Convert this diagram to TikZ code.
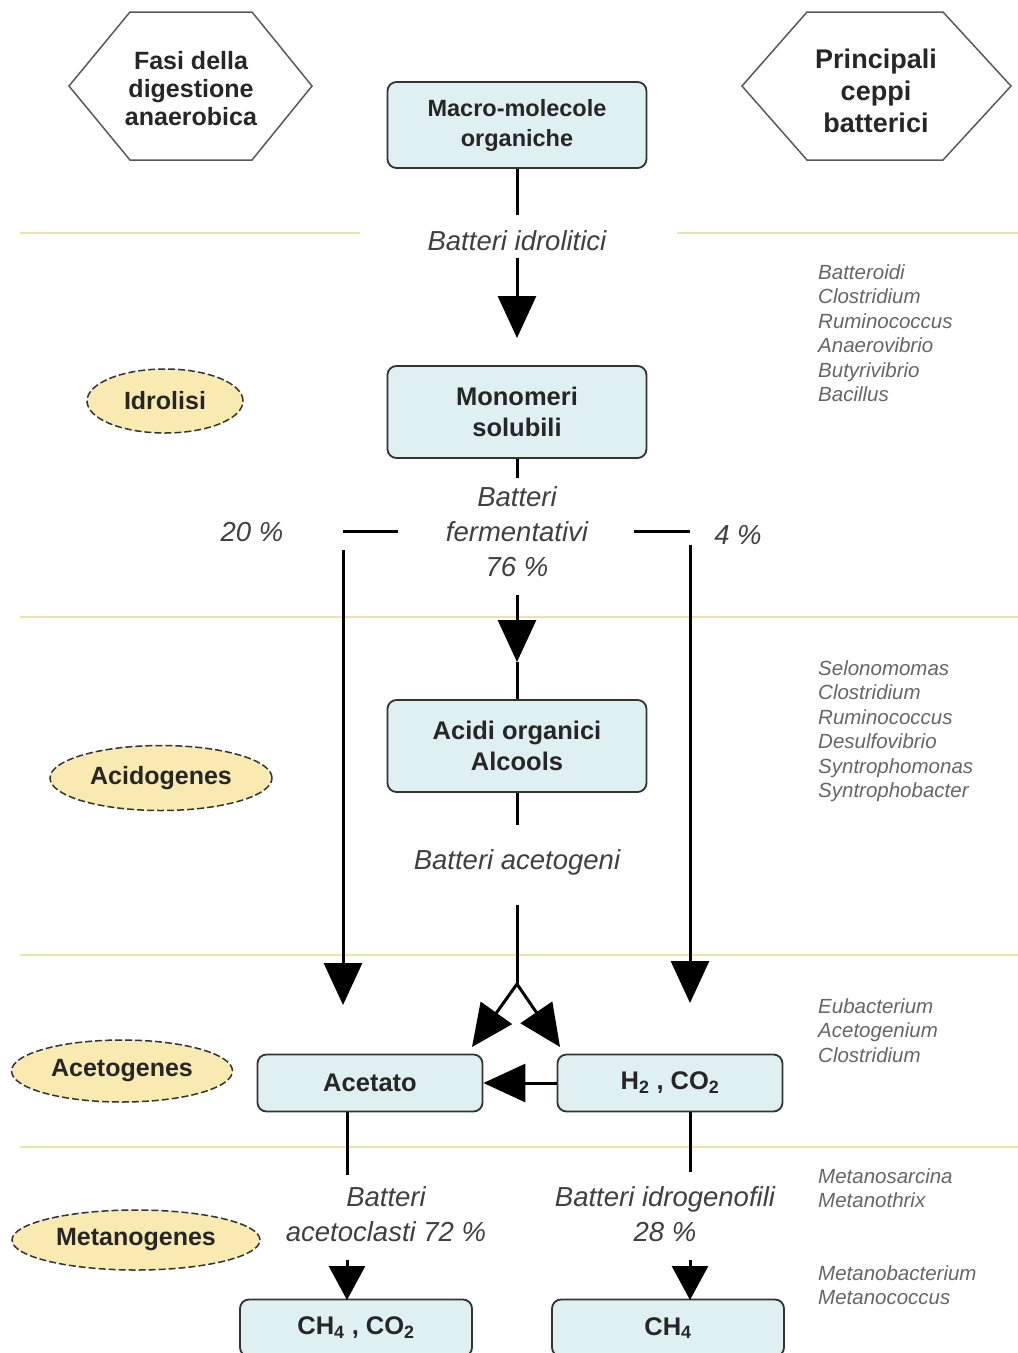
\documentclass[tikz,border=0pt]{standalone}
\usepackage{fontspec}
\setmainfont{Liberation Sans}
\usetikzlibrary{arrows.meta,shapes.geometric}
\definecolor{boxfill}{HTML}{DFF0F3}
\definecolor{ellfill}{HTML}{F8EAB0}
\definecolor{sepcol}{HTML}{EFE2A6}
\definecolor{edgecol}{HTML}{333333}
\begin{document}
\begin{tikzpicture}[x=1pt,y=-1pt,
  box/.style={draw=edgecol, line width=1.8pt, fill=boxfill, rounded corners=9pt, align=center, text=black!85, font=\bfseries\fontsize{25.5}{31}\selectfont},
  phase/.style={ellipse, draw=edgecol, line width=1.5pt, dash pattern=on 7pt off 3pt, fill=ellfill, text=black!85, font=\bfseries\fontsize{25}{30}\selectfont, inner sep=0pt},
  lab/.style={align=center, text=black!75, font=\itshape\fontsize{27.5}{35}\selectfont, inner sep=0pt},
  species/.style={align=left, anchor=north west, text=black!60, font=\itshape\fontsize{20.5}{24.5}\selectfont, inner sep=0pt},
  hexa/.style={draw=black!65, line width=1.5pt},
  hextext/.style={align=center, text=black!85, font=\bfseries\fontsize{25}{28}\selectfont},
  conn/.style={line width=3pt, black},
  tip/.style={-{Triangle[width=38pt,length=42pt]}},
  smalltip/.style={-{Triangle[width=36pt,length=34pt]}},
  sep/.style={sepcol, line width=2.2pt}
]
\clip (0,0) rectangle (1018,1353);
\fill[white] (0,0) rectangle (1018,1353);

% separators
\draw[sep] (20,233) -- (360,233);
\draw[sep] (677,233) -- (1018,233);
\draw[sep] (20,617) -- (1018,617);
\draw[sep] (20,955) -- (1018,955);
\draw[sep] (20,1147) -- (1018,1147);

% hexagons
\draw[hexa] (69,86) -- (130,12) -- (252,12) -- (312,86) -- (252,160) -- (130,160) -- cycle;
\node[hextext] (hexL) at (191,89) {Fasi della\\digestione\\anaerobica};
\draw[hexa] (742,86) -- (807,12) -- (943,12) -- (1011,86) -- (943,160) -- (807,160) -- cycle;
\node[hextext, font=\bfseries\fontsize{27}{32}\selectfont] (hexR) at (876,91) {Principali\\ceppi\\batterici};

% boxes
\node[box, minimum width=259pt, minimum height=86pt, font=\bfseries\fontsize{23.5}{30}\selectfont] (macro) at (517,125) {Macro-molecole\\organiche};
\node[box, minimum width=259pt, minimum height=92pt] (mono) at (517,412) {Monomeri\\solubili};
\node[box, minimum width=259pt, minimum height=92pt] (acidi) at (517,746) {Acidi organici\\Alcools};
\node[box, minimum width=225pt, minimum height=57pt] (acet) at (370,1083) {Acetato};
\node[box, minimum width=225pt, minimum height=57pt] (hco) at (670,1083) {H\textsubscript{2} , CO\textsubscript{2}};
\node[box, minimum width=232pt, minimum height=57pt] (ch4co2) at (356,1328) {CH\textsubscript{4} , CO\textsubscript{2}};
\node[box, minimum width=232pt, minimum height=57pt] (ch4) at (668,1328) {CH\textsubscript{4}};

% phases
\node[phase, minimum width=156pt, minimum height=64pt] (idro) at (165,401) {Idrolisi};
\node[phase, minimum width=222pt, minimum height=65pt] (acido) at (161,778) {Acidogenes};
\node[phase, minimum width=221pt, minimum height=62pt] (aceto) at (122,1071) {Acetogenes};
\node[phase, minimum width=248pt, minimum height=60pt] (metano) at (136,1240) {Metanogenes};

% labels
\node[lab] (l1) at (517,241) {Batteri idrolitici};
\node[lab] (l2) at (517,532) {Batteri\\fermentativi\\76 \%};
\node[lab] (p20) at (252,532) {20 \%};
\node[lab] (p4) at (738,535) {4 \%};
\node[lab] (l3) at (517,862) {Batteri acetogeni};
\node[lab] (l4) at (386,1214) {Batteri\\acetoclasti 72 \%};
\node[lab] (l5) at (665,1214) {Batteri idrogenofili\\28 \%};

% species lists
\node[species] (sp1) at (818,264) {Batteroidi\\Clostridium\\Ruminococcus\\Anaerovibrio\\Butyrivibrio\\Bacillus};
\node[species] (sp2) at (818,660) {Selonomomas\\Clostridium\\Ruminococcus\\Desulfovibrio\\Syntrophomonas\\Syntrophobacter};
\node[species] (sp3) at (818,998) {Eubacterium\\Acetogenium\\Clostridium};
\node[species] (sp4) at (818,1168) {Metanosarcina\\Metanothrix};
\node[species] (sp5) at (818,1265) {Metanobacterium\\Metanococcus};

% coordinates
\coordinate (a1) at (517,215);
\coordinate (a2) at (517,258);
\coordinate (a3) at (517,338);
\coordinate (b1) at (517,478);
\coordinate (hl1) at (343,531);
\coordinate (hl2) at (398,531);
\coordinate (hr1) at (634,531);
\coordinate (hr2) at (690,531);
\coordinate (vl1) at (343,550);
\coordinate (vl2) at (343,1005);
\coordinate (vr1) at (690,545);
\coordinate (vr2) at (690,1003);
\coordinate (m1) at (517,595);
\coordinate (m2) at (517,662);
\coordinate (c1) at (517,825);
\coordinate (c2) at (517,905);
\coordinate (fork) at (517,984);
\coordinate (fl) at (472,1047);
\coordinate (fr) at (560,1047);
\coordinate (d1) at (347,1175);
\coordinate (d2) at (347,1260);
\coordinate (d3) at (347,1300);
\coordinate (e1) at (690,1172);
\coordinate (e2) at (690,1260);
\coordinate (e3) at (690,1300);

% connectors
\draw[conn] (macro.south) -- (a1);
\draw[conn,tip] (a2) -- (a3);
\draw[conn] (mono.south) -- (b1);
\draw[conn] (hl1) -- (hl2);
\draw[conn] (hr1) -- (hr2);
\draw[conn,tip] (vl1) -- (vl2);
\draw[conn,tip] (vr1) -- (vr2);
\draw[conn,tip] (m1) -- (m2);
\draw[conn] (m2) -- (acidi.north);
\draw[conn] (acidi.south) -- (c1);
\draw[conn] (c2) -- (fork);
\draw[conn,tip] (fork) -- (fl);
\draw[conn,tip] (fork) -- (fr);
\draw[conn,tip] (hco.west) -- (acet.east);
\draw[conn] (acet.south -| d1) -- (d1);
\draw[conn,smalltip] (d2) -- (d3);
\draw[conn] (hco.south -| e1) -- (e1);
\draw[conn,smalltip] (e2) -- (e3);
\end{tikzpicture}
\end{document}
